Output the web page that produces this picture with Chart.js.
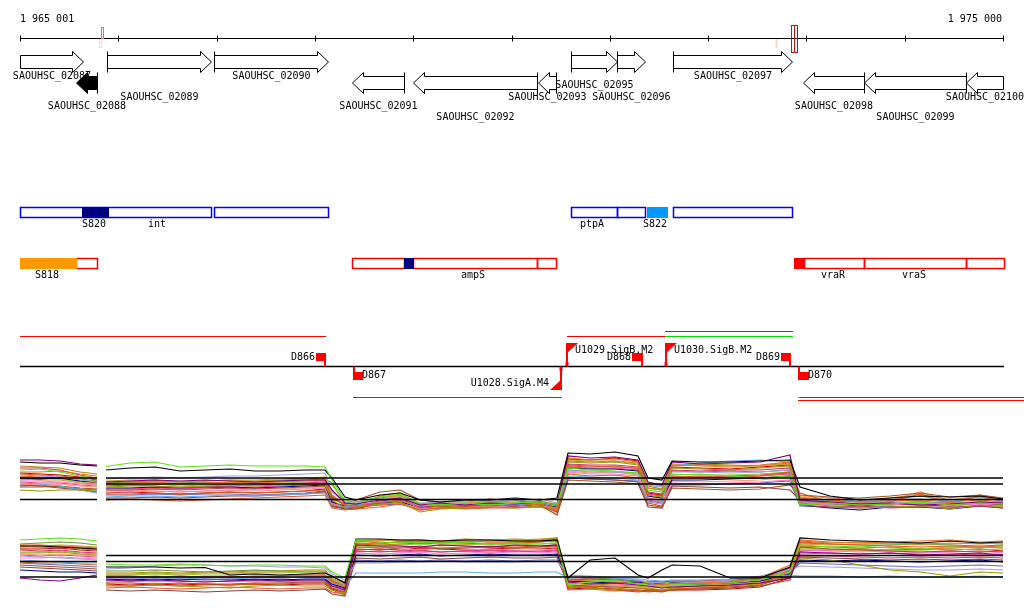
<!DOCTYPE html>
<html lang="en">
<head>
<meta charset="UTF-8">
<title>SAOUHSC_02087 - SAOUHSC_02100</title>
<style>
  html, body { margin: 0; padding: 0; background: #fff; }
  #wrap { width: 1024px; height: 611px; }
</style>
</head>
<body>
<div id="wrap"><canvas id="browser"></canvas></div>
<script src="https://cdn.jsdelivr.net/npm/chart.js"></script>
<script>
// genomic window
const viewStart = 1965001;
const viewEnd = 1975001;
const rulerStep = 1000;

// genes: name, start, end, strand
const genes = [
  ['SAOUHSC_02087', 1964900, 1965639, '+'],
  ['SAOUHSC_02088', 1965571, 1965781, '-'],
  ['SAOUHSC_02089', 1965889, 1966944, '+'],
  ['SAOUHSC_02090', 1966978, 1968131, '+'],
  ['SAOUHSC_02091', 1968381, 1968910, '-'],
  ['SAOUHSC_02092', 1969002, 1970264, '-'],
  ['SAOUHSC_02093', 1970271, 1970457, '-'],
  ['SAOUHSC_02095', 1970609, 1971077, '+'],
  ['SAOUHSC_02096', 1971077, 1971356, '+'],
  ['SAOUHSC_02097', 1971641, 1972855, '+'],
  ['SAOUHSC_02098', 1972966, 1973590, '-'],
  ['SAOUHSC_02099', 1973590, 1974628, '-'],
  ['SAOUHSC_02100', 1974628, 1975300, '-']
];
const selectedGene = 'SAOUHSC_02088';

// transcribed segments: start, end, kind
const segmentsPlus = [
  [1965004, 1966941, 'seg'], [1965632, 1965893, 'dark'], [1966978, 1968131, 'seg'],
  [1970609, 1971077, 'seg'], [1971077, 1971356, 'seg'], [1971379, 1971583, 'light'],
  [1971641, 1972852, 'seg']
];
const segmentsMinus = [
  [1965004, 1965574, 'orange'], [1965574, 1965781, 'seg'], [1968381, 1968907, 'seg'],
  [1968907, 1969002, 'dark'], [1969002, 1970264, 'seg'], [1970264, 1970457, 'seg'],
  [1972878, 1972974, 'solid'], [1972974, 1973590, 'seg'], [1973590, 1974628, 'seg'],
  [1974628, 1975008, 'seg']
];
const labelsPlus = [['S820', 1965751], ['int', 1966398], ['ptpA', 1970820], ['S822', 1971464]];
const labelsMinus = [['S818', 1965279], ['ampS', 1969612], ['vraR', 1973268], ['vraS', 1974093]];

// terminators: name, start, end, strand
const terminators = [
  ['D866', 1968012, 1968110, '+'],
  ['D867', 1968389, 1968493, '-'],
  ['D868', 1971227, 1971339, '+'],
  ['D869', 1972742, 1972841, '+'],
  ['D870', 1972914, 1973023, '-']
];
// promoters: name, position, strand
const promoters = [
  ['U1028.SigA.M4', 1970508, '-'],
  ['U1029.SigB.M2', 1970569, '+'],
  ['U1030.SigB.M2', 1971573, '+']
];
// transcripts: start, end, lane, kind
const transcripts = [
  [1965004, 1968110, 'p1', 'red'],
  [1968389, 1970515, 'm1', 'red'],
  [1970569, 1971566, 'p1', 'red'],
  [1971566, 1972862, 'p1', 'green'],
  [1971566, 1972862, 'p2', 'red'],
  [1972914, 1972935, 'm1', 'green'],
  [1972935, 1975215, 'm1', 'red'],
  [1972914, 1975215, 'm2', 'red']
];
const rulerMarks = [[1965825, 'probe'], [1972695, 'faint'], [1972847, 'pick']];

// tiling array probe positions (null row = gap between array blocks)
const probePos = [1965001, 1965204, 1965408, 1965611, 1965784, 1965825,
  1965876, 1966120, 1966374, 1966629, 1966883, 1967137, 1967392, 1967646, 1967900, 1968104,
  1968175, 1968307, 1968419, 1968663, 1968867, 1969070, 1969274, 1969528, 1969782, 1970037,
  1970291, 1970464, 1970576, 1970800, 1971054, 1971288, 1971390, 1971532, 1971634, 1971919,
  1972224, 1972529, 1972834, 1972936, 1973241, 1973546, 1973852, 1974157, 1974462, 1974767, 1975001];
const blockA = [1965001, 1965784];
const blockB = [1965876, 1975001];
const threshA1 = [8.4, 4.1];
const threshB1 = [8.4, 7.2, 4.1];
const threshA2 = [7.2, 4.1];
const threshB2 = [8.4, 7.2, 4.1];

// upper panel (+ strand signal)
const top1 = [10,10.2,9.6,8.8,8.4,null,10.7,11.4,11.6,10.6,10.8,11,10.8,10.8,10.8,10.6,8,4,3.6,4.6,5.2,3.4,3,3.4,3,3.4,3.6,3,10.4,10,9.8,9.4,6,5.6,9,9.2,8.8,8.4,8.8,3,3.4,3,3.2,3.6,3,3.4,3.2];
const top2 = [11.6,11.4,11.4,11,10.8,null,10,10.4,10.6,9.8,10,10.2,9.8,9.8,10,10,8.4,4.6,4,5,5.4,4,3.6,4,4,4.4,4,4.4,13.4,13.2,13.6,12.8,8.4,8,11.8,11.6,11.6,11.8,12,6.6,4.8,4,4.4,4.8,4.6,4.8,4.2];
const top3 = [12,12,11.8,11.2,11,null,7.6,7.8,8,7.8,8,7.8,7.6,7.8,8,8,6,3.4,3.2,4,4.4,3,3.4,3,3.4,3.2,3.6,3,12.8,12.4,12.6,12,7.6,7,11.6,11.2,11.4,11.6,13,4,3.6,3.2,3.4,3,3.2,3.6,3.4];
const top4 = [9.6,9.6,9.8,9.2,8.8,null,7.2,7.4,7.6,7.2,7.4,7.6,7.4,7.6,7.8,8,5,3,2.8,3.6,4,2.4,2.8,2.6,3,2.8,3.2,2.4,12.4,12,12.2,11.6,6.4,6,10.8,11,10.8,11,11.6,4.4,4,3.6,3.8,4,3.6,4,3.6];
const top5 = [6,5.8,6,6,5.8,null,6.6,6.8,6.8,6.6,6.8,7,6.8,7,7.2,7.2,4,2.4,2.6,3.2,3.6,1.6,2.2,2.4,2.6,2.4,2.8,2,11.6,11.4,11.6,11,5,4.6,10.4,10.2,10,10.4,10.8,3.4,2.8,2.4,2.6,2.8,2.2,3,2.6];
const top6 = [7.4,7.2,6.8,6,5.4,null,4.6,4.8,4.8,4.6,4.8,5,4.8,5,5.2,5.4,3,2.6,3,3.6,3.8,2.8,3,3,3.2,3,3.4,2.8,8.8,8.6,8.4,8,4,3.6,10.8,11.4,11.8,12,11.6,4.2,3.8,4,4,4.2,3.8,4.2,4];
const top7 = [9,8.8,8.6,8,7.6,null,8.2,8.4,8.6,8.4,8.6,8.8,8.8,9,9.2,9.4,5.6,3.6,3.4,4.2,4.6,3.4,3.6,3.6,4,3.8,4.2,3.4,10,9.6,9.6,9.2,7,6.6,9.6,9.6,9.4,9.6,10,3.6,3.2,3.4,3.4,3.6,3.2,3.6,3.4];
const top8 = [6.6,6.6,6.8,6.4,6.2,null,6,6,6.2,6,6.2,6.4,6.2,6.4,6.6,6.8,4.4,3.2,4,5.6,6,4,3.6,3.8,4.2,4,3,1,8,7.8,7.6,7.2,3,2.6,6.4,6.2,6,6.2,7,5,4.6,4.4,4.8,5.4,4.6,5,4.4];
const top9 = [10.4,10.4,10,9,8.4,null,6.8,7,6.8,6.4,6.6,6.8,7,7.2,7.4,7.6,4.8,2.8,2.6,3.4,4,2.6,3,2.8,3.2,3,3.2,2.4,11.2,11,11,10.6,5.6,5.2,10,9.8,10,10,10.4,3,2.6,2.8,2.4,2.6,2.6,2.8,2.4];
const top10 = [9.2,9,8.8,8.4,8.2,null,4,4.2,4,3.8,4,4.2,4.4,4.6,4.8,5,2.4,2,2.2,2.6,3.2,2,2.4,2.2,2.4,2.4,2.6,1.8,10.8,10.6,10.8,10.2,4.4,4,8.8,8.6,8.8,9,9.4,3.8,3.4,3.2,3.6,5.2,3.4,4.8,3.8];
const top11 = [8.4,8.2,8.4,7.8,7.6,null,6.4,6.4,6.6,6.4,6.6,6.6,6.4,6.6,6.8,7,3.6,2.8,3,3.4,3.6,2.6,2.8,2.8,3,2.8,3.2,2.6,10.4,10.2,10.2,9.8,4.8,4.4,8,8,8.2,8.4,8.8,3,2.4,2,2.6,2.6,2.2,2.8,2.4];
const top12 = [8.2,8,8,7.4,7.2,null,7.8,8,8,7.6,7.8,8,8,8.2,8.4,8.6,4,3.4,3.4,4.6,4.8,3.2,3.4,3.4,3.8,3.6,3.8,3.2,12,11.8,11.8,11.2,7.2,6.8,11.2,10.8,10.6,10.8,11.2,4.6,4,3.8,4.4,5.2,4,4.8,4];
const top13 = [7.8,7.8,7.6,7.2,7,null,5.6,5.6,5.8,5.6,5.8,6,5.8,6,6.2,6.4,3.4,2.6,2.8,3.2,3.4,2.2,2.6,2.6,2.8,2.6,3,2.2,9.6,9.2,9.2,8.8,3.6,3.2,7.4,7.2,7.4,7.6,8,3.4,3,2.6,3,3.4,2.8,3.2,2.8];
const top14 = [8.8,8.6,8.4,7.8,7.4,null,5.2,5.2,5.4,5.2,5.4,5.6,5.4,5.6,5.8,6,3.2,2.4,2.6,3,3.4,2,2.4,2.4,2.8,2.6,2.8,2,9.2,8.8,9,8.4,3.4,2.8,8.4,8.4,8.6,8.8,9.6,5.4,3.6,3.2,3.4,3.6,3,3.6,3.2];
const top15 = [7,6.8,6.4,6,5.6,null,4.4,4.4,4.6,4.4,4.6,4.8,4.8,5,5.2,5.6,2.8,2.2,2.4,3.8,4.2,2.6,2.8,2.8,3.2,2.8,3.2,1.6,8.4,8.2,8,7.6,2.6,2.4,6.8,6.6,6.4,6.6,6,4,3.4,3,3.2,3.4,2.8,3.4,3];
const top16 = [8.6,8.4,8.2,7.6,7.2,null,7,7.2,7.2,6.8,7,7.2,7.2,7.4,7.6,7.8,7,3.8,3.6,4.2,4.6,3.2,3.4,3.4,3.6,3.4,3.6,3,10,9.8,9.6,9.4,6.4,6,9.2,9,9,9.2,9.6,3.8,3.4,3.2,3.6,3.6,3.2,3.8,3.4];
const top17 = [7.2,7,7.2,6.8,6.6,null,5.8,6,5.8,5.6,5.8,6,6.2,6.2,6.4,6.6,3.8,2.4,2.4,3.8,5.2,2.8,2.6,3,4.2,3.4,3.2,1.4,9.8,9.4,9.6,9,4.2,3.8,7.8,7.6,7.8,8,8.6,4.8,4.4,4,3.8,5.6,3.8,5,4.2];
const top18 = [8,8.2,8.6,8.2,7.8,null,7.4,7.6,7.4,7.4,7.6,7.4,7.6,7.8,8,8.2,7.4,3.2,3.2,4.4,5,2.8,3.2,3.2,3.8,3.4,3.8,2.8,11,10.8,10.6,10.4,6.8,6.2,9.8,9.6,9.8,9.6,10,3.2,3,3.4,3,3.8,3.2,3.6,3];
const top19 = [9.4,9.2,9,8.6,8,null,5.4,5.6,5.4,5.2,5.4,5.6,5.4,5.6,5.8,6.2,3,2.2,2.2,3.4,3.8,2.4,2.6,2.4,2.6,2.8,3,2.2,12.2,12,12.4,11.8,5.4,5,10.6,10.4,10.2,10.6,11,3.6,3.2,2.8,3.2,3,2.8,3.4,3];
const top20 = [6.8,7,6.6,6.2,6,null,5,5,5.2,5,5.2,5.2,5,5.2,5.4,5.8,2.6,2.4,2.6,3,3.2,2.2,2.6,2.4,2.8,2.6,2.8,2.2,8.4,8.2,8,7.8,3.8,3.4,7,7,7.2,7.4,7.8,2.8,2.6,2.4,2.8,2.6,2.4,3,2.8];
const top21 = [10.8,10.6,10.4,9.6,9.2,null,7.6,7.6,7.8,7.6,7.8,8,7.8,8,8.2,8.4,4.6,3,3,4.8,5.4,3,3.2,3,3.6,3.2,3.4,2.6,11.8,11.6,11.8,11.4,7.4,7,11,11.2,11,10.8,11.4,4.4,3.8,3.6,4,4.8,3.8,4.6,3.8];
const top22 = [7.6,7.4,7.4,7,6.8,null,6.2,6.2,6.4,6.2,6.4,6.6,6.6,6.8,7,7.2,3.4,2.6,2.8,3.8,4.4,2.6,3,2.8,3.2,3,3.4,2.4,10.6,10.4,10.4,10,5.2,4.8,8.6,8.8,8.6,8.8,9.2,3.6,3.8,3.6,3.2,3.4,3.6,3.4,3.6];

// lower panel (- strand signal)
const bot1 = [11.5,11.7,11.9,11.7,11.3,null,6.7,6.5,6.5,6.7,6.5,6.3,6.5,6.5,6.3,6.3,5.1,3.9,11.5,11.1,10.9,11.1,10.9,11.1,10.7,10.9,10.7,10.9,2.5,3.1,3.5,2.7,2.5,2.3,2.5,2.7,2.9,3.5,5.1,10.5,10.1,10.3,9.9,9.7,10.1,9.9,10.1];
const bot2 = [10.3,10.3,10.1,9.9,9.7,null,6.1,6.1,6.1,5.9,6,4.5,4.7,4.5,4.7,4.9,4.3,2.9,11.7,11.7,11.5,11.5,11.3,11.5,11.5,11.3,11.3,11.5,3.9,7.5,7.9,4.5,3.9,5.5,6.5,6.3,3.9,3.9,6.1,11.9,11.5,11.3,11.1,10.9,11.3,10.9,11.1];
const bot3 = [3.9,3.5,3.3,3.9,4.5,null,3.5,3.3,3.5,3.3,3.1,3.3,3.5,3.3,3.5,3.5,2.3,1.5,10.5,10.3,10.3,10.1,10.5,10.3,10.1,10.5,10.3,10.5,3.1,2.7,2.9,2.5,2.3,1.9,2.1,2.3,2.5,2.9,3.9,9.1,8.9,8.7,8.9,8.5,8.7,8.9,8.5];
const bot4 = [9.9,9.9,10.1,9.7,9.5,null,4.1,4.1,4.3,4.1,4.3,4.3,4.1,4.3,4.5,4.5,3.1,2.1,11.3,10.9,11.1,11.3,11.1,11.3,11.1,11.1,11.3,11.7,3.5,3.3,3.1,2.7,2.9,2.5,2.7,2.9,3.1,3.9,6.5,11.5,11.1,10.9,11.1,11.3,11.5,11.1,11.3];
const bot5 = [8.9,8.9,9.1,8.7,8.5,null,2.5,2.3,2.5,2.3,2.1,1.9,2.3,2.5,2.3,2.3,1.5,0.9,10.9,10.7,11.1,11.3,10.9,11.1,11.3,11.3,11.5,11.9,2.3,1.9,1.5,1.7,1.9,1.5,1.9,2.3,2.5,2.7,4.5,7.9,7.5,6.5,5.5,5.1,4.3,5.1,4.9];
const bot6 = [7.5,7.3,7.1,6.9,6.9,null,3.9,3.9,3.7,3.9,3.7,3.7,3.9,3.9,4.1,4.1,2.9,2.3,4.9,4.9,4.9,4.9,5.1,5.1,4.9,4.9,5.1,5.1,3.9,4.1,3.9,3.7,3.5,3.3,3.5,3.5,3.7,4.1,4.5,4.3,4.3,4.1,4.3,4.1,4.1,4.3,4.1];
const bot7 = [8.3,8.1,7.9,7.7,7.5,null,5.7,5.9,6.3,6.5,6.5,6.3,6.3,6.1,6.1,5.9,4.7,3.5,6.9,6.9,7.1,7.1,7.3,7.1,7.1,7.1,7.3,7.3,4.5,4.3,3.9,3.5,3.1,2.9,2.7,3.1,3.5,4.3,5.5,6.3,6.1,5.9,5.7,5.5,5.5,5.7,5.5];
const bot8 = [6.5,6.3,6.1,5.9,5.7,null,2.9,2.9,2.7,2.9,2.7,2.7,2.9,2.9,3.1,3.1,1.9,1.1,9.7,9.5,9.9,10.1,9.7,9.9,10.1,9.9,10.1,10.3,1.9,2.1,1.5,1.1,1.3,1.1,1.5,1.7,1.9,2.3,3.5,10.1,9.7,9.5,9.3,9.1,9.3,9.1,9.3];
const bot9 = [9.5,9.3,9.5,9.1,8.9,null,4.3,4.3,4.1,4.3,4.1,4.1,4.3,4.3,4.5,4.5,3.3,2.3,9.3,9.1,9.3,9.5,9.1,9.3,9.5,9.3,9.3,9.5,3.7,3.7,3.5,3.1,3.3,3.1,3.3,3.3,3.5,3.7,5.9,8.3,8.3,8.1,7.9,8.1,7.9,8.1,7.9];
const bot10 = [10.5,10.5,10.3,10.1,9.9,null,1.9,2.1,1.9,1.7,1.9,2.1,1.9,1.7,1.9,1.9,1.1,0.7,10.1,9.9,10.1,10.3,9.9,10.1,10.3,10.1,10.3,10.5,1.5,1.7,1.3,1.5,1.1,1.3,1.5,1.7,1.9,2.5,5.5,11.1,10.7,10.5,10.3,10.1,10.3,10.1,10.3];
const bot11 = [5.5,5.3,5.1,5.1,4.9,null,3.7,3.5,3.7,3.5,3.7,3.5,3.7,3.5,3.7,3.7,2.7,1.9,8.5,8.3,8.5,8.7,8.3,8.5,8.7,8.5,8.5,8.7,3.3,3.1,2.9,3.1,2.7,2.7,2.9,2.7,2.9,3.3,4.7,7.5,7.3,7.5,7.3,7.1,7.3,7.5,7.1];
const bot12 = [10.1,10.3,10.5,10.3,10.1,null,4.7,4.7,4.9,4.7,4.9,4.9,5.1,5.1,5.3,5.3,3.9,2.7,11.1,11.3,11.5,11.5,11.3,11.5,11.5,11.5,11.7,11.9,2.9,2.5,2.3,2.1,2.3,2.1,2.3,2.5,2.7,3.1,5.9,10.7,10.5,10.7,10.9,10.5,10.9,10.7,10.9];
const bot13 = [7.9,7.9,8.1,7.9,7.7,null,3.3,3.1,3.3,3.1,3.3,3.1,3.3,3.1,3.3,3.3,2.3,1.5,8.9,8.7,8.9,9.1,8.7,8.9,9.1,8.9,8.9,9.1,2.7,2.9,2.7,2.3,2.5,2.3,2.5,2.7,2.9,3.3,5.1,9.5,9.3,9.1,9.3,8.9,9.1,9.3,8.9];
const bot14 = [7.1,6.9,6.9,6.7,6.5,null,2.3,2.3,2.5,2.3,2.5,2.5,2.7,2.7,2.9,2.9,1.5,0.5,10.7,10.5,10.7,10.9,10.7,10.7,10.9,10.9,11.1,11.5,2.1,2.3,1.9,1.5,1.5,1.3,1.7,1.9,2.3,2.9,4.7,10.3,10.1,9.9,10.1,9.7,9.9,10.1,9.9];
const bot15 = [6.1,5.9,5.7,5.5,5.3,null,1.5,1.3,1.5,1.3,1.1,1.3,1.5,1.3,1.5,1.7,0.7,0.3,7.9,7.7,7.9,8.1,7.7,7.9,8.1,7.9,7.9,8.1,2.5,2.3,2.1,1.9,1.7,1.5,1.7,1.9,2.1,2.5,4.3,8.1,7.9,7.7,7.5,7.7,7.5,7.7,7.5];
const bot16 = [9.1,9.1,9.3,8.9,8.7,null,4.5,4.5,4.7,4.5,4.7,4.7,4.9,4.9,5.1,5.1,3.5,2.5,10.3,10.1,10.5,10.7,10.3,10.5,10.7,10.5,10.7,10.9,3.1,3.5,3.3,2.9,3.1,2.9,3.1,3.1,3.3,3.7,5.5,9.9,9.7,9.7,9.5,9.5,9.7,9.5,9.7];
const bot17 = [8.7,8.5,8.7,8.5,8.3,null,3.1,3.3,3.1,3.3,3.1,3.3,3.1,3.3,3.1,3.1,2.1,1.3,9.9,10.1,9.7,9.5,9.9,9.7,9.5,9.7,9.9,10.1,2.1,2.5,2.3,1.9,2.1,1.9,2.1,2.1,2.3,2.7,4.1,9.7,9.5,9.3,9.5,9.3,9.1,9.3,9.1];
const bot18 = [10.7,10.9,11.1,10.9,10.5,null,5.3,5.3,5.5,5.3,5.1,5.3,5.5,5.3,5.1,5.1,4.1,3.1,10.7,10.9,11.1,10.9,11.1,10.9,10.7,10.9,11.1,11.3,3.3,3.9,3.7,3.3,3.1,3.1,3.3,3.3,3.5,3.9,5.3,10.9,10.7,10.5,10.5,10.7,10.5,10.3,10.5];
const bot19 = [9.7,9.7,9.9,9.5,9.3,null,2.7,2.5,2.7,2.5,2.7,2.5,2.7,2.5,2.7,2.7,1.7,0.9,9.5,9.7,9.5,9.9,9.7,9.5,9.7,9.9,9.7,9.9,1.7,1.9,1.7,1.3,1.5,1.3,1.5,1.5,1.7,2.1,3.9,9.3,9.5,9.7,9.5,9.7,9.5,9.7,9.3];
const bot20 = [6.9,6.7,6.5,6.3,6.1,null,3.5,3.7,3.5,3.7,3.5,3.7,3.5,3.7,3.5,3.5,2.5,1.7,7.5,7.3,7.5,7.3,7.5,7.3,7.5,7.3,7.5,7.5,3.5,3.7,3.7,3.3,3.1,2.9,3.1,3.1,3.3,3.7,4.9,6.9,6.7,6.5,6.3,6.1,6.3,6.5,6.3];
const bot21 = [10.3,10.1,10.1,9.9,9.7,null,4.9,4.9,5.1,4.9,5.1,5.1,5.3,5.3,5.5,5.5,3.7,2.5,11.3,11.5,11.3,11.5,11.3,11.7,11.5,11.7,11.5,11.7,2.9,2.7,2.5,2.3,2.1,2.3,2.1,2.3,2.5,2.9,5.3,11.3,10.9,11.1,10.7,10.9,10.7,10.9,10.7];
const bot22 = [8.5,8.3,8.5,8.3,8.1,null,3.9,3.9,4.1,3.9,4.1,3.9,4.1,3.9,4.1,4.3,2.9,2.1,9.1,9.3,9.1,9.3,9.1,9.3,9.1,9.3,9.1,9.3,3.1,3.3,3.1,2.7,2.9,2.7,2.9,2.9,3.1,3.5,4.9,8.7,8.9,8.7,8.9,8.7,8.5,8.7,8.5];

const topSeries = [top1, top2, top3, top4, top5, top6, top7, top8, top9, top10, top11,
  top12, top13, top14, top15, top16, top17, top18, top19, top20, top21, top22];
const botSeries = [bot1, bot2, bot3, bot4, bot5, bot6, bot7, bot8, bot9, bot10, bot11,
  bot12, bot13, bot14, bot15, bot16, bot17, bot18, bot19, bot20, bot21, bot22];
const seriesColors = ['#5fe014', '#000000', '#800080', '#e8701a', '#999900', '#66aaee', '#a0a0dd', '#a0522d',
  '#cc3377', '#e8552a', '#000080', '#cc9933', '#ff77cc', '#cc6600', '#884444', '#88cc33',
  '#ff9966', '#669933', '#cc0000', '#6666cc', '#b8860b', '#ff3399'];

// drawing layout (pixels)
const H = 611;
const L = {
  rulerY: 38.5, tickTop: 35.5, tickBottom: 41.5, rulerLabelY: 19,
  genePlusY: 62, geneMinusY: 83, bodyHalf: 6.5, headHalf: 10.5, headLen: 11,
  featPlusTop: 207.5, featMinusTop: 258.5, featH: 10, featPlusLabelY: 224, featMinusLabelY: 275,
  trackY: 366.5, termPlusTop: 353, termMinusTop: 372, termH: 8,
  flagTop: 343, flagBottom: 390, flagW: 11, flagH: 11,
  lanes: { p1: 336.5, p2: 331.5, m1: 397.5, m2: 400.5 },
  panel1Base: 520, panel2Base: 597.5, pxPerUnit: 5
};
const geneLabelY = {
  SAOUHSC_02087: 76, SAOUHSC_02088: 106.5, SAOUHSC_02089: 97, SAOUHSC_02090: 76,
  SAOUHSC_02091: 106.5, SAOUHSC_02092: 117, SAOUHSC_02093: 97, SAOUHSC_02095: 85,
  SAOUHSC_02096: 97, SAOUHSC_02097: 76, SAOUHSC_02098: 106.5, SAOUHSC_02099: 117, SAOUHSC_02100: 97
};
const fillKinds = { dark: '#000080', light: '#0099ff', orange: '#ff9900', solid: '#ff0000' };
const lineKinds = { red: '#ff0000', green: '#00e000' };

function fmt(n) {
  return String(n).replace(/\B(?=(\d{3})+(?!\d))/g, ' ');
}

function signalSet(values, axis, color) {
  return {
    data: values.map((v, i) => ({ x: probePos[i], y: v })),
    yAxisID: axis, borderColor: color, borderWidth: 1.2,
    pointRadius: 0, tension: 0, spanGaps: false
  };
}

function thresholdSet(value, axis, blocks) {
  const pts = [];
  blocks.forEach(b => {
    if (pts.length) pts.push({ x: (pts[pts.length - 1].x + b[0]) / 2, y: null });
    pts.push({ x: b[0], y: value }, { x: b[1], y: value });
  });
  return { data: pts, yAxisID: axis, borderColor: '#000', borderWidth: 1.5, pointRadius: 0, spanGaps: false, order: -1 };
}

function thresholdSets(axis, aList, bList) {
  const all = Array.from(new Set([...aList, ...bList]));
  return all.map(v => {
    const blocks = [];
    if (aList.includes(v)) blocks.push(blockA);
    if (bList.includes(v)) blocks.push(blockB);
    return thresholdSet(v, axis, blocks);
  });
}

const datasets = [
  ...thresholdSets('e1', threshA1, threshB1),
  ...thresholdSets('e2', threshA2, threshB2),
  ...topSeries.map((s, i) => signalSet(s, 'e1', seriesColors[i])),
  ...botSeries.map((s, i) => signalSet(s, 'e2', seriesColors[i]))
];

const trackPlugin = {
  id: 'track',
  afterDraw(chart) {
    const ctx = chart.ctx;
    const xs = chart.scales.x, ys = chart.scales.track;
    const X = bp => Math.round(xs.getPixelForValue(bp));
    const Y = v => ys.getPixelForValue(v);
    const x0 = X(viewStart), x1 = X(viewEnd);
    ctx.save();
    ctx.font = '10px "DejaVu Sans Mono", monospace';
    ctx.textBaseline = 'middle';
    ctx.lineWidth = 1;

    // ruler
    ctx.strokeStyle = '#000';
    ctx.beginPath();
    ctx.moveTo(x0, Y(L.rulerY)); ctx.lineTo(x1 + 1, Y(L.rulerY));
    for (let p = viewStart; p <= viewEnd; p += rulerStep) {
      const x = X(p) + 0.5;
      ctx.moveTo(x, Y(L.tickTop)); ctx.lineTo(x, Y(L.tickBottom));
    }
    ctx.stroke();
    ctx.fillStyle = '#000';
    ctx.textAlign = 'left';
    ctx.fillText(fmt(viewStart), x0, Y(L.rulerLabelY));
    ctx.textAlign = 'right';
    ctx.fillText(fmt(viewEnd - 1), x1 - 1, Y(L.rulerLabelY));

    rulerMarks.forEach(([bp, kind]) => {
      const x = X(bp) + 0.5;
      if (kind === 'probe') {
        ctx.strokeStyle = '#e87060';
        ctx.strokeRect(x, Y(27.5), 2, 11);
        ctx.strokeStyle = '#f6dccf';
        ctx.strokeRect(x - 2, Y(39.5), 2, 8);
      } else if (kind === 'faint') {
        ctx.strokeStyle = '#f4d6c6';
        ctx.lineWidth = 2;
        ctx.beginPath(); ctx.moveTo(x, Y(39)); ctx.lineTo(x, Y(48)); ctx.stroke();
        ctx.lineWidth = 1;
      } else {
        ctx.strokeStyle = '#b01818';
        ctx.strokeRect(x, Y(25.5), 3, 27);
        ctx.strokeRect(x + 3, Y(25.5), 3, 27);
      }
    });

    // genes
    ctx.strokeStyle = '#000';
    genes.forEach(([name, s, e, strand]) => {
      const a = X(Math.max(s, viewStart)) + 0.5;
      const b = X(Math.min(e, viewEnd)) + 0.5;
      const cy = Y(strand === '+' ? L.genePlusY : L.geneMinusY);
      const bh = L.bodyHalf, hh = L.headHalf, hl = L.headLen;
      ctx.beginPath();
      if (strand === '+') {
        ctx.moveTo(a, cy - bh); ctx.lineTo(b - hl, cy - bh); ctx.lineTo(b - hl, cy - hh);
        ctx.lineTo(b, cy); ctx.lineTo(b - hl, cy + hh); ctx.lineTo(b - hl, cy + bh); ctx.lineTo(a, cy + bh);
      } else {
        ctx.moveTo(b, cy - bh); ctx.lineTo(a + hl, cy - bh); ctx.lineTo(a + hl, cy - hh);
        ctx.lineTo(a, cy); ctx.lineTo(a + hl, cy + hh); ctx.lineTo(a + hl, cy + bh); ctx.lineTo(b, cy + bh);
      }
      ctx.closePath();
      ctx.fillStyle = name === selectedGene ? '#000' : '#fff';
      ctx.fill();
      ctx.stroke();
      const startIn = strand === '+' ? s >= viewStart : e <= viewEnd;
      if (startIn) {
        const tx = strand === '+' ? a : b;
        ctx.beginPath(); ctx.moveTo(tx, cy - hh); ctx.lineTo(tx, cy + hh); ctx.stroke();
      }
      ctx.fillStyle = '#000';
      ctx.textAlign = 'center';
      ctx.fillText(name, (a + b) / 2, Y(geneLabelY[name]));
    });

    // transcribed segments
    function drawSegments(list, top, stroke) {
      list.filter(r => r[2] === 'seg').forEach(([s, e]) => {
        ctx.strokeStyle = stroke;
        ctx.strokeRect(X(s) + 0.5, Y(top), X(e) - X(s), L.featH);
      });
      list.filter(r => r[2] !== 'seg').forEach(([s, e, k]) => {
        ctx.fillStyle = fillKinds[k];
        ctx.fillRect(X(s), Y(top) - 0.5, X(e) - X(s) + 1, L.featH + 1);
      });
    }
    ctx.lineWidth = 1.5;
    drawSegments(segmentsPlus, L.featPlusTop, '#0000ff');
    drawSegments(segmentsMinus, L.featMinusTop, '#ff0000');
    ctx.lineWidth = 1;
    ctx.fillStyle = '#000';
    ctx.textAlign = 'center';
    labelsPlus.forEach(([t, p]) => ctx.fillText(t, X(p), Y(L.featPlusLabelY)));
    labelsMinus.forEach(([t, p]) => ctx.fillText(t, X(p), Y(L.featMinusLabelY)));

    // transcripts
    transcripts.forEach(([s, e, lane, kind]) => {
      ctx.strokeStyle = lineKinds[kind];
      ctx.beginPath();
      ctx.moveTo(X(s), Y(L.lanes[lane])); ctx.lineTo(X(e), Y(L.lanes[lane]));
      ctx.stroke();
    });

    // baseline
    ctx.strokeStyle = '#000';
    ctx.lineWidth = 1.5;
    ctx.beginPath(); ctx.moveTo(x0, Y(L.trackY)); ctx.lineTo(x1 + 1, Y(L.trackY)); ctx.stroke();
    ctx.lineWidth = 1;

    // terminators
    terminators.forEach(([name, s, e, strand]) => {
      const a = X(s), b = X(e);
      ctx.fillStyle = '#ff0000';
      if (strand === '+') {
        ctx.fillRect(a, Y(L.termPlusTop), b - a, L.termH);
        ctx.fillRect(b - 2, Y(L.termPlusTop) + L.termH, 2, Y(L.trackY) - Y(L.termPlusTop) - L.termH);
        ctx.fillStyle = '#000'; ctx.textAlign = 'right';
        ctx.fillText(name, a - 1, Y(L.termPlusTop + 4));
      } else {
        ctx.fillRect(a, Y(L.termMinusTop), b - a, L.termH);
        ctx.fillRect(a, Y(L.trackY), 2, Y(L.termMinusTop) - Y(L.trackY));
        ctx.fillStyle = '#000'; ctx.textAlign = 'left';
        ctx.fillText(name, b - 1, Y(L.termMinusTop + 3.5));
      }
    });

    // promoters
    promoters.forEach(([name, p, strand]) => {
      const x = X(p);
      ctx.strokeStyle = '#ff0000';
      ctx.fillStyle = '#ff0000';
      ctx.lineWidth = 2;
      ctx.beginPath();
      if (strand === '+') {
        ctx.moveTo(x, Y(L.trackY)); ctx.lineTo(x, Y(L.flagTop)); ctx.stroke();
        ctx.beginPath();
        ctx.moveTo(x - 1, Y(L.flagTop)); ctx.lineTo(x + L.flagW, Y(L.flagTop)); ctx.lineTo(x - 1, Y(L.flagTop) + L.flagH);
        ctx.closePath(); ctx.fill();
        ctx.fillRect(x - 1.5, Y(L.trackY) - 4.5, 3, 4);
        ctx.fillStyle = '#000'; ctx.textAlign = 'left';
        ctx.fillText(name, x + 8, Y(L.flagTop + 7.5));
      } else {
        ctx.moveTo(x, Y(L.trackY)); ctx.lineTo(x, Y(L.flagBottom)); ctx.stroke();
        ctx.beginPath();
        ctx.moveTo(x + 1, Y(L.flagBottom)); ctx.lineTo(x - L.flagW, Y(L.flagBottom)); ctx.lineTo(x + 1, Y(L.flagBottom) - L.flagH);
        ctx.closePath(); ctx.fill();
        ctx.fillRect(x - 1.5, Y(L.trackY) + 0.5, 3, 4);
        ctx.fillStyle = '#000'; ctx.textAlign = 'right';
        ctx.fillText(name, x - 12, Y(L.flagBottom - 7));
      }
      ctx.lineWidth = 1;
    });
    ctx.restore();
  }
};

new Chart(document.getElementById('browser'), {
  type: 'line',
  data: { datasets: datasets },
  options: {
    responsive: true,
    maintainAspectRatio: false,
    animation: false,
    devicePixelRatio: 1,
    events: [],
    layout: { autoPadding: false, padding: { left: 20, right: 21, top: 0, bottom: 0 } },
    plugins: { legend: { display: false }, tooltip: { enabled: false } },
    scales: {
      x: { type: 'linear', min: viewStart, max: viewEnd, display: false },
      track: { axis: 'y', type: 'linear', min: 0, max: H, reverse: true, display: false },
      e1: { axis: 'y', type: 'linear', min: (L.panel1Base - H) / L.pxPerUnit, max: L.panel1Base / L.pxPerUnit, display: false },
      e2: { axis: 'y', type: 'linear', min: (L.panel2Base - H) / L.pxPerUnit, max: L.panel2Base / L.pxPerUnit, display: false }
    }
  },
  plugins: [trackPlugin]
});
</script>
</body>
</html>
